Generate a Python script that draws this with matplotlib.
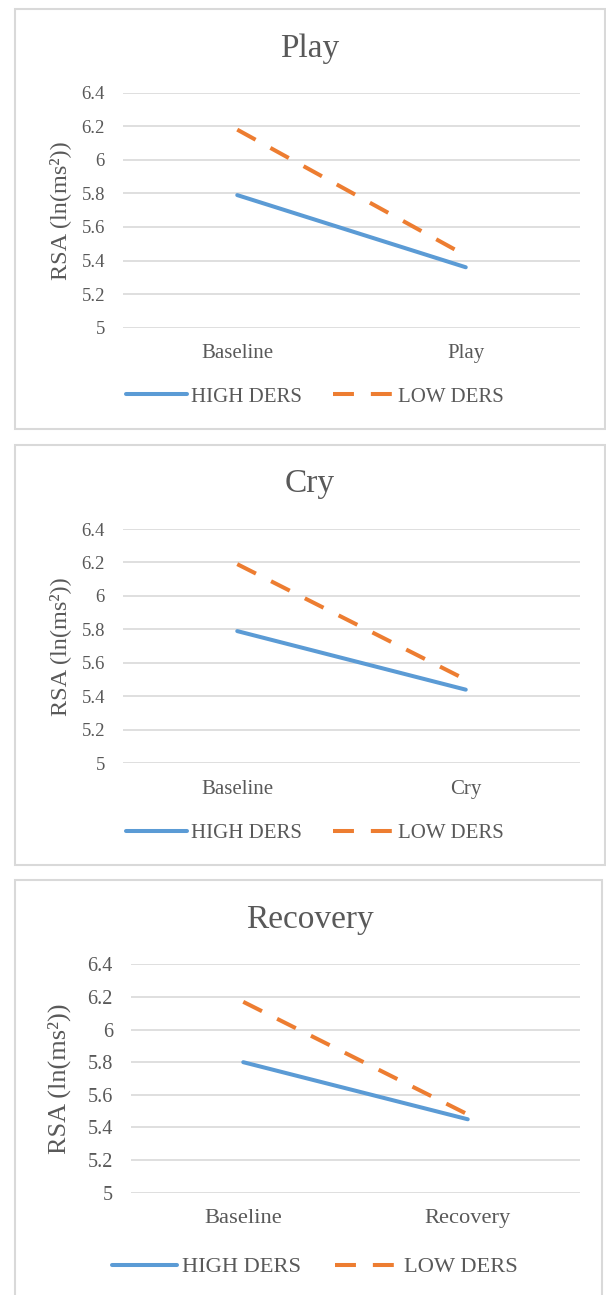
import matplotlib
matplotlib.use('Agg')
import matplotlib.pyplot as plt
from matplotlib.patches import Rectangle

# data
phases = ['Play', 'Cry', 'Recovery']
high_ders = [[5.79, 5.36], [5.79, 5.44], [5.80, 5.45]]
low_ders = [[6.18, 5.43], [6.19, 5.50], [6.17, 5.48]]
yticks = [5, 5.2, 5.4, 5.6, 5.8, 6, 6.2, 6.4]
ytick_labels = ['5', '5.2', '5.4', '5.6', '5.8', '6', '6.2', '6.4']
series_names = ['HIGH DERS', 'LOW DERS']

BLUE = '#5B9BD5'
ORANGE = '#ED7D31'
TXT = '#595959'
GRID = '#D9D9D9'

W, H = 606, 1295
plt.rcParams['font.family'] = ['Liberation Serif', 'DejaVu Serif']

fig = plt.figure(figsize=(W / 100, H / 100), dpi=100)

# layout in pixels: box (x0, y0, x1, y1), axes (left, top, right, bottom), title baseline, legend y, font scale
layout = [
    dict(box=(15, 9, 605, 429), ax=(123, 92.7, 580, 327.7), title_y=57, leg_y=397, s=1.0),
    dict(box=(15, 445, 605, 865), ax=(123, 529, 580, 763.3), title_y=492, leg_y=833, s=1.0),
    dict(box=(15, 880, 602, 1310), ax=(131, 964.3, 580, 1192.7), title_y=928, leg_y=1267, s=1.08),
]


def fx(px):
    return px / W


def fy(py):
    return 1 - py / H


for i, name in enumerate(phases):
    L = layout[i]
    s = L['s']
    x0, y0, x1, y1 = L['box']
    fig.patches.append(Rectangle((fx(x0), fy(y1)), fx(x1 - x0), (y1 - y0) / H,
                                 transform=fig.transFigure, fill=False,
                                 edgecolor=GRID, lw=1.5, zorder=0))

    l, t, r, b = L['ax']
    ax = fig.add_axes([fx(l), fy(b), fx(r - l), (b - t) / H])

    cats = ['Baseline', name]
    xs = [0, 1]
    ax.plot(xs, high_ders[i], color=BLUE, lw=2.9, solid_capstyle='round', label=series_names[0])
    ax.plot(xs, low_ders[i], color=ORANGE, lw=2.9, linestyle=(0, (5.2, 4.2)),
            dash_capstyle='butt', label=series_names[1])

    ax.set_xlim(-0.5, 1.5)
    ax.set_ylim(5, 6.4)
    ax.set_yticks(yticks)
    ax.set_yticklabels(ytick_labels)
    ax.set_xticks(xs)
    ax.set_xticklabels(cats)
    ax.tick_params(axis='y', length=0, pad=13, labelsize=13.5 * s, labelcolor=TXT)
    ax.tick_params(axis='x', length=0, pad=12, labelsize=15 * s, labelcolor=TXT)
    ax.yaxis.grid(True, color=GRID, lw=1.2)
    ax.set_axisbelow(True)
    for sp in ax.spines.values():
        sp.set_visible(False)

    ax.set_ylabel('RSA (ln(ms²))', fontsize=17.5 * s, color=TXT)
    ax.yaxis.set_label_coords((71 - l) / (r - l), 0.5)

    # chart title
    fig.text(fx(310), fy(L['title_y']), name, ha='center', va='baseline',
             fontsize=24, color=TXT)

    ax.legend(loc='center', bbox_to_anchor=(fx(315), fy(L['leg_y'])),
              bbox_transform=fig.transFigure, ncol=2, frameon=False,
              fontsize=15 * s, labelcolor=TXT, handlelength=2.9,
              handletextpad=0.2, columnspacing=1.5)

fig.savefig('out.png', dpi=100)
